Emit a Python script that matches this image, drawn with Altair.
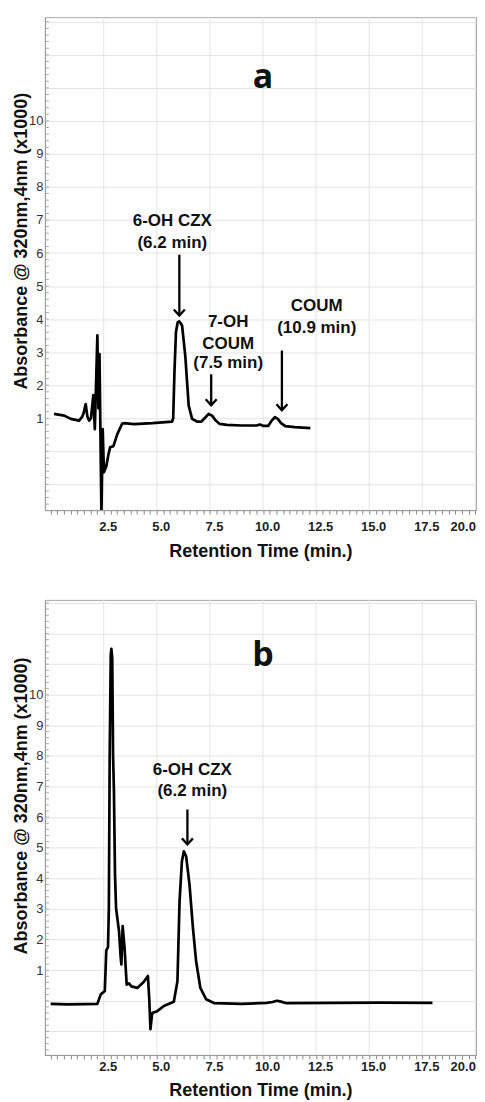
import altair as alt
import pandas as pd

# ---------------- data ----------------
a_time = [0.16, 0.64, 0.95, 1.34, 1.49, 1.55, 1.65, 1.73, 1.81, 1.90, 2.01, 2.08, 2.20, 2.25, 2.30,
          2.39, 2.45, 2.51, 2.62, 2.72, 2.80, 2.95, 3.14, 3.37, 3.45, 3.92, 4.80, 5.72, 5.77, 5.83,
          5.90, 5.98, 6.05, 6.12, 6.19, 6.34, 6.50, 6.66, 6.89, 7.10, 7.25, 7.44, 7.60, 7.75, 7.95,
          8.30, 9.00, 9.70, 9.85, 10.00, 10.25, 10.40, 10.56, 10.70, 10.85, 11.05, 11.50, 12.23]
a_abs = [1.13, 1.08, 0.98, 0.93, 1.05, 1.15, 1.43, 1.05, 0.93, 1.00, 1.70, 0.67, 3.51, 1.30, 2.94,
         -1.90, 0.67, -0.63, -0.45, -0.10, 0.12, 0.15, 0.52, 0.84, 0.85, 0.82, 0.85, 0.90, 1.00, 2.40,
         3.60, 3.90, 3.93, 3.88, 3.80, 2.89, 1.38, 0.98, 0.90, 0.90, 1.00, 1.13, 1.08, 0.95, 0.83,
         0.80, 0.78, 0.78, 0.81, 0.77, 0.77, 0.92, 1.03, 0.98, 0.85, 0.76, 0.73, 0.70]

b_time = [0.00, 0.80, 1.60, 2.20, 2.36, 2.55, 2.62, 2.70, 2.74, 2.78, 2.83, 2.86, 2.90, 2.94, 2.98,
          3.03, 3.08, 3.22, 3.30, 3.33, 3.39, 3.48, 3.58, 3.69, 3.80, 4.08, 4.39, 4.58, 4.64, 4.70,
          4.78, 5.02, 5.33, 5.80, 5.97, 6.07, 6.18, 6.27, 6.38, 6.54, 6.70, 6.85, 7.05, 7.32, 7.71,
          9.00, 10.17, 10.45, 10.65, 10.80, 11.11, 13.30, 15.50, 17.98]
b_abs = [-0.10, -0.12, -0.11, -0.10, 0.21, 0.32, 1.65, 1.75, 3.00, 8.00, 11.30, 11.50, 11.20, 8.00, 6.84,
         4.13, 3.03, 2.27, 1.40, 1.19, 2.44, 1.73, 0.53, 0.57, 0.47, 0.42, 0.62, 0.81, 0.10, -0.93,
         -0.40, -0.34, -0.17, -0.03, 0.64, 3.25, 4.55, 4.88, 4.72, 3.79, 2.38, 1.29, 0.42, 0.05, -0.08,
         -0.10, -0.07, -0.04, 0.00, -0.02, -0.08, -0.07, -0.06, -0.07]

# annotations
a_labels = ["6-OH CZX", "(6.2 min)", "7-OH", "COUM", "(7.5 min)", "COUM", "(10.9 min)"]
a_label_t = [5.73, 5.73, 8.36, 8.36, 8.36, 12.53, 12.53]
a_label_v = [6.98, 6.31, 3.90, 3.26, 2.66, 4.41, 3.72]
a_arrow_t = [6.06, 7.56, 10.89]
a_arrow_top = [5.95, 2.33, 3.05]
a_arrow_tip = [4.11, 1.39, 1.24]

b_labels = ["6-OH CZX", "(6.2 min)"]
b_label_t = [6.67, 6.67]
b_label_v = [7.55, 6.87]
b_arrow_t = [6.44]
b_arrow_top = [6.25]
b_arrow_tip = [5.11]

# axis ticks / grids
x_major = [2.5, 5.0, 7.5, 10.0, 12.5, 15.0, 17.5, 20.0]
x_ticks = [i * 0.3125 for i in range(65)]
y_grid = list(range(-1, 14))
y_minor = [round(-1.6 + 0.2 * i, 1) for i in range(74)]

FONT = "Liberation Sans"


def panel(times, values, labels, lt, lv, at, atop, atip, letter, letter_v,
          width, height, xdom, ydom, title_y, label_pad, title_pad):
    x = alt.X("t:Q",
              scale=alt.Scale(domain=xdom, nice=False, zero=False),
              axis=alt.Axis(values=x_ticks, format=".1f",
                            labelExpr="(datum.value > 0 && datum.value % 2.5 == 0) ? datum.label : ''",
                            grid=False, tickSize=4, tickColor="#888", domainColor="#999",
                            labelFont=FONT, labelFontSize=13, labelFontWeight="bold", labelColor="#222",
                            labelPadding=label_pad, labelOffset=4, labelFlush=True,
                            labelFlushOffset=-4, labelOverlap=False,
                            title="Retention Time (min.)", titleFont=FONT, titleFontSize=18,
                            titleFontWeight="bold", titleColor="#111", titlePadding=title_pad))
    y = alt.Y("v:Q",
              scale=alt.Scale(domain=ydom, nice=False, zero=False),
              axis=alt.Axis(values=y_grid, format="d",
                            labelExpr="(datum.value >= 1 && datum.value <= 10) ? datum.label : ''",
                            grid=True, gridColor="#e4e4e4", ticks=False, tickSize=0,
                            domainColor="#999",
                            labelFont=FONT, labelFontSize=13, labelColor="#333", labelPadding=2,
                            labelFlush=False, labelOverlap=False,
                            title="Absorbance @ 320nm,4nm (x1000)", titleFont=FONT, titleFontSize=18,
                            titleFontWeight="bold", titleColor="#111", titlePadding=-2,
                            titleY=title_y))

    df = pd.DataFrame({"t": times, "v": values})
    grid_df = pd.DataFrame({"t": x_major})
    minor_df = pd.DataFrame({"v": y_minor})
    lab_df = pd.DataFrame({"t": lt, "v": lv, "txt": labels})
    arr_df = pd.DataFrame({"t": at, "v": atop, "v2": atip})
    tip_df = pd.DataFrame({"t": at, "v": atip})
    let_df = pd.DataFrame({"t": [10.0], "v": [letter_v], "txt": [letter]})

    gridx = alt.Chart(grid_df).mark_rule(color="#e4e4e4", strokeWidth=1).encode(x=x)
    minor = alt.Chart(minor_df).mark_rule(color="#aaa", strokeWidth=1).encode(
        y=y, x=alt.value(0), x2=alt.value(4))
    line = alt.Chart(df).mark_line(color="black", strokeWidth=2.7, clip=True,
                                   strokeJoin="round").encode(x=x, y=y)
    shafts = alt.Chart(arr_df).mark_rule(color="black", strokeWidth=2.3).encode(
        x=x, y=y, y2=alt.Y2("v2:Q"))
    heads = alt.Chart(tip_df).mark_point(shape="M-1,-1.1L0,0L1,-1.1", filled=False, size=121,
                                         color="black", strokeWidth=2.3, opacity=1).encode(x=x, y=y)
    texts = alt.Chart(lab_df).mark_text(font=FONT, fontSize=17, fontWeight="bold", color="#111",
                                        baseline="middle", align="center").encode(
        x=x, y=y, text="txt:N")
    let = alt.Chart(let_df).mark_text(font="Open Sans", fontSize=34, fontWeight="bold", color="#111",
                                      baseline="middle", align="center").encode(
        x=x, y=y, text="txt:N")

    return alt.layer(gridx, minor, line, shafts, heads, texts, let).properties(
        width=width, height=height)


pa = panel(a_time, a_abs, a_labels, a_label_t, a_label_v, a_arrow_t, a_arrow_top, a_arrow_tip,
           "a", 11.3, 432, 494, [-0.27, 20.03], [-1.78, 13.14], 224, 6, 10)
pb = panel(b_time, b_abs, b_labels, b_label_t, b_label_v, b_arrow_t, b_arrow_top, b_arrow_tip,
           "b", 11.28, 432, 456, [-0.27, 20.03], [-1.77, 13.10], 206, 2, 8)

chart = alt.vconcat(pa, pb, spacing=34).properties(
    padding={"left": 4, "top": 6, "right": 0, "bottom": 0}
).configure_view(stroke="#a8a8a8", strokeWidth=1)

chart.save("out.html", embed_options={"renderer": "svg", "actions": False})
